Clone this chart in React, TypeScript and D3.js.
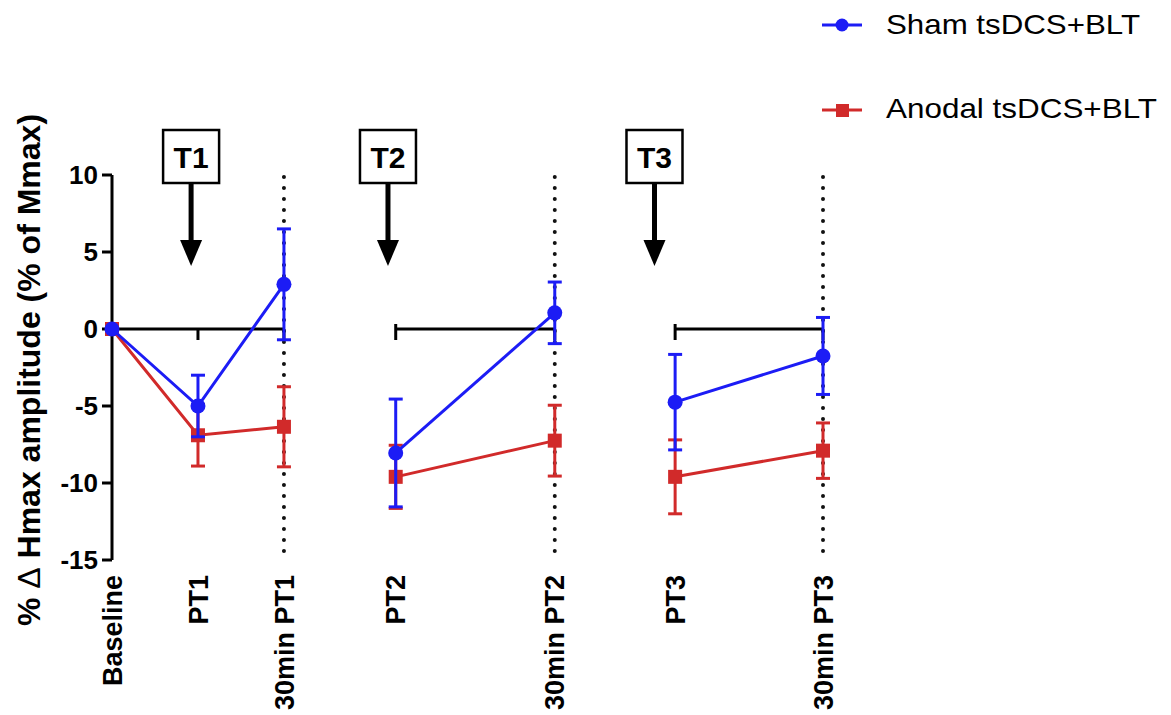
import React from 'react';
import * as d3 from 'd3';

// time points on the x axis and where they sit along it
const timepoints = ['Baseline', 'PT1', '30min PT1', 'PT2', '30min PT2', 'PT3', '30min PT3'];
const timeSlot = [0, 1, 2, 3.3, 5.15, 6.55, 8.27];

// mean change and error (% of Mmax)
const shamMean = [0, -5.0, 2.9, -8.05, 1.05, -4.75, -1.75];
const shamErr = [0, 2.0, 3.6, 3.5, 2.0, 3.1, 2.5];
const anodalMean = [0, -6.9, -6.35, -9.6, -7.25, -9.6, -7.9];
const anodalErr = [0, 2.0, 2.6, 2.05, 2.3, 2.4, 1.8];

const yTicks = [10, 5, 0, -5, -10, -15];

// x axis is broken into three pieces (index ranges into timepoints)
const axisSegments = [[0, 2], [3, 4], [5, 6]];

// treatment sessions, arrows drawn just before each post-treatment point
const treatments = ['T1', 'T2', 'T3'];
const treatmentSlot = [0.92, 3.21, 6.31];

const BLUE = '#1c1cf5';
const RED = '#d12a2a';
const FONT = '"Liberation Sans", Arial, sans-serif';

const W = 1171;
const H = 715;

const x = d3.scaleLinear().domain([0, 8.27]).range([112, 823]);
const y = d3.scaleLinear().domain([-15, 10]).range([560, 175]);

const Series = ({ mean, err, color, shape }) => {
  const line = d3.line<number>()
    .x((i) => x(timeSlot[i]))
    .y((i) => y(mean[i]));
  return (
    <g>
      {mean.map((m, i) => {
        if (!err[i]) return null;
        const cx = x(timeSlot[i]);
        const top = y(m + err[i]);
        const bot = y(m - err[i]);
        return (
          <g key={i} stroke={color} strokeWidth={3}>
            <line x1={cx} x2={cx} y1={top} y2={bot} />
            <line x1={cx - 7} x2={cx + 7} y1={top} y2={top} />
            <line x1={cx - 7} x2={cx + 7} y1={bot} y2={bot} />
          </g>
        );
      })}
      {axisSegments.map(([a, b], s) => (
        <path key={s} d={line(d3.range(a, b + 1))} fill="none" stroke={color} strokeWidth={3} />
      ))}
      {mean.map((m, i) =>
        shape === 'circle' ? (
          <circle key={i} cx={x(timeSlot[i])} cy={y(m)} r={7.5} fill={color} />
        ) : (
          <rect key={i} x={x(timeSlot[i]) - 7} y={y(m) - 7} width={14} height={14} fill={color} />
        )
      )}
    </g>
  );
};

const App = () => {
  const y0 = y(0);
  return (
    <svg
      width={W}
      height={H}
      style={{ position: 'absolute', left: 0, top: 0, display: 'block', background: '#fff' }}
      fontFamily={FONT}
    >
      {/* dotted separators at the 30 min points */}
      {[2, 4, 6].map((i) => (
        <line
          key={i}
          x1={x(timeSlot[i])}
          x2={x(timeSlot[i])}
          y1={y(10) + 2}
          y2={y(-15)}
          stroke="#111"
          strokeWidth={4}
          strokeLinecap="round"
          strokeDasharray="0 11"
        />
      ))}

      {/* y axis */}
      <line x1={x(0)} x2={x(0)} y1={y(10)} y2={y(-15)} stroke="#000" strokeWidth={3} />
      {yTicks.map((t) => (
        <g key={t}>
          <line x1={x(0) - 10} x2={x(0)} y1={y(t)} y2={y(t)} stroke="#000" strokeWidth={3} />
          <text x={98} y={y(t)} dy="0.36em" textAnchor="end" fontSize={26} fontWeight="bold">
            {t}
          </text>
        </g>
      ))}
      <text
        transform={`translate(40, 370) rotate(-90)`}
        textAnchor="middle"
        fontSize={32}
        fontWeight="bold"
      >
        % <tspan fontWeight="normal">Δ</tspan> Hmax amplitude (% of Mmax)
      </text>

      {/* broken x axis along zero */}
      {axisSegments.map(([a, b], s) => (
        <g key={s} stroke="#000" strokeWidth={3}>
          <line x1={x(timeSlot[a])} x2={x(timeSlot[b])} y1={y0} y2={y0} />
          {s > 0 && <line x1={x(timeSlot[a])} x2={x(timeSlot[a])} y1={y0 - 5} y2={y0 + 11} />}
          {d3.range(a + 1, b + 1).map((i) => (
            <line key={i} x1={x(timeSlot[i])} x2={x(timeSlot[i])} y1={y0} y2={y0 + 11} />
          ))}
        </g>
      ))}

      {/* x labels */}
      {timepoints.map((t, i) => (
        <text
          key={t}
          transform={`translate(${x(timeSlot[i])}, 575) rotate(-90)`}
          dy="0.36em"
          textAnchor="end"
          fontSize={27}
          fontWeight="bold"
        >
          {t}
        </text>
      ))}

      {/* treatment markers */}
      {treatments.map((t, i) => {
        const cx = x(treatmentSlot[i]);
        return (
          <g key={t}>
            <rect x={cx - 28} y={130} width={56} height={53} fill="#fff" stroke="#000" strokeWidth={2.5} />
            <text x={cx} y={157} dy="0.36em" textAnchor="middle" fontSize={30} fontWeight="bold">
              {t}
            </text>
            <line x1={cx} x2={cx} y1={183} y2={242} stroke="#000" strokeWidth={5} />
            <path d={`M${cx - 11},${240} L${cx + 11},${240} L${cx},${266} Z`} fill="#000" />
          </g>
        );
      })}

      <Series mean={anodalMean} err={anodalErr} color={RED} shape="square" />
      <Series mean={shamMean} err={shamErr} color={BLUE} shape="circle" />

      {/* legend */}
      <g>
        <line x1={822} x2={862} y1={25} y2={25} stroke={BLUE} strokeWidth={3} />
        <circle cx={842} cy={25} r={6.5} fill={BLUE} />
        <text x={886} y={34} fontSize={28} textLength={254} lengthAdjust="spacingAndGlyphs">
          Sham tsDCS+BLT
        </text>
        <line x1={822} x2={862} y1={110} y2={110} stroke={RED} strokeWidth={3} />
        <rect x={836} y={104} width={13} height={13} fill={RED} />
        <text x={886} y={118} fontSize={28} textLength={271} lengthAdjust="spacingAndGlyphs">
          Anodal tsDCS+BLT
        </text>
      </g>
    </svg>
  );
};

export default App;
